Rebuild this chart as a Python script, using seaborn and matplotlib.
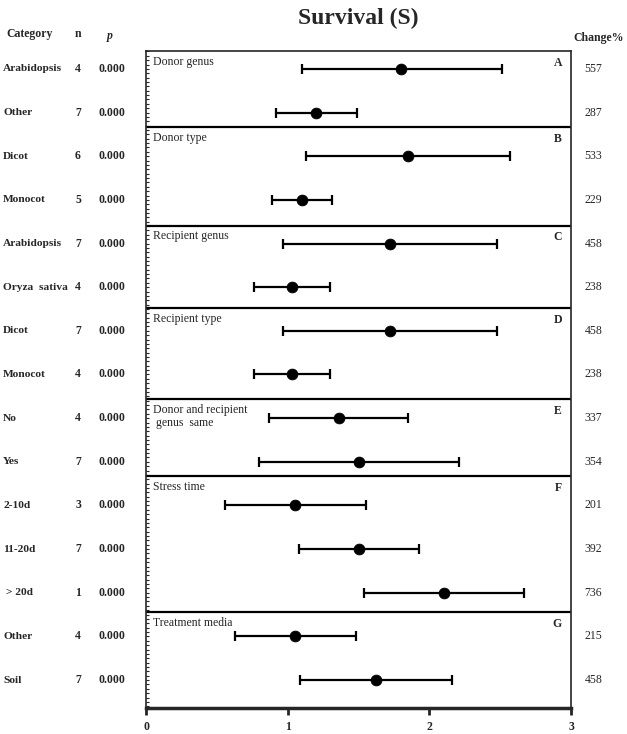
import numpy as np
import pandas as pd
import matplotlib
matplotlib.use("Agg")
import matplotlib.pyplot as plt
import seaborn as sns
from matplotlib.ticker import MultipleLocator

# data
categories = ["Arabidopsis", "Other", "Dicot", "Monocot", "Arabidopsis", "Oryza  sativa",
              "Dicot", "Monocot", "No", "Yes", "2-10d", "11-20d", " > 20d", "Other", "Soil"]
n_values = [4, 7, 6, 5, 7, 4, 7, 4, 4, 7, 3, 7, 1, 4, 7]
p_values = ["0.000", "0.000", "0.000", "0.000", "0.000", "0.000", "0.000", "0.000",
            "0.000", "0.000", "0.000", "0.000", "0.000", "0.000", "0.000"]
means = [1.80, 1.20, 1.85, 1.10, 1.72, 1.03, 1.72, 1.03, 1.36, 1.50, 1.05, 1.50, 2.10, 1.05, 1.62]
lower = [1.10, 0.92, 1.13, 0.89, 0.97, 0.76, 0.97, 0.76, 0.87, 0.80, 0.56, 1.08, 1.54, 0.63, 1.09]
upper = [2.51, 1.49, 2.57, 1.31, 2.48, 1.30, 2.48, 1.30, 1.85, 2.21, 1.55, 1.93, 2.67, 1.48, 2.16]
change = [557, 287, 533, 229, 458, 238, 458, 238, 337, 354, 201, 392, 736, 215, 458]

groups = ["Donor genus", "Donor type", "Recipient genus", "Recipient type",
          "Donor and recipient\n genus  same", "Stress time", "Treatment media"]
letters = ["A", "B", "C", "D", "E", "F", "G"]
# panel edges in row units (row i sits at y = i)
edges = [-0.41, 1.33, 3.59, 5.48, 7.57, 9.33, 12.44, 14.64]

df = pd.DataFrame({
    "Category": categories,
    "n": n_values,
    "p": p_values,
    "mean": means,
    "lower": lower,
    "upper": upper,
    "change": change,
})
df["row"] = np.arange(len(df))

sns.set_style("ticks")
plt.rcParams["font.family"] = ["Liberation Serif", "DejaVu Serif"]
FS = 8.5

fig = plt.figure(figsize=(6.27, 7.34), dpi=100)
ax = fig.add_axes([0.2329, 0.0354, 0.6778, 0.8951])

# confidence intervals
ax.errorbar(df["mean"], df["row"],
            xerr=[df["mean"] - df["lower"], df["upper"] - df["mean"]],
            fmt="none", ecolor="black", elinewidth=1.6, capsize=3.6, capthick=1.6, zorder=2)
sns.scatterplot(data=df, x="mean", y="row", ax=ax, s=60, color="black",
                edgecolor="black", zorder=3, legend=False)

ax.set_xlim(0, 3)
ax.set_ylim(edges[-1], edges[0])
ax.set_xlabel("")
ax.set_ylabel("")
ax.set_xticks([0, 1, 2, 3])
for lab in ax.get_xticklabels():
    lab.set_fontweight("bold")
ax.tick_params(axis="x", direction="out", length=5, width=2, labelsize=FS, pad=4)
ax.set_yticks([])
ax.yaxis.set_minor_locator(MultipleLocator(0.1))
ax.tick_params(axis="y", which="minor", direction="in", length=2, width=0.8, left=True)

for side in ["top", "right", "left"]:
    ax.spines[side].set_visible(True)
    ax.spines[side].set_linewidth(1.2)
ax.spines["bottom"].set_linewidth(2.5)

# panel dividers, titles and letters
ytr = ax.get_yaxis_transform()
for k, (g, let) in enumerate(zip(groups, letters)):
    top = edges[k]
    if k > 0:
        ax.axhline(top, color="black", lw=1.6, zorder=1)
    ax.annotate(g, xy=(0.016, top), xycoords=ytr,
                xytext=(0, -3.5), textcoords="offset points", va="top", ha="left",
                fontsize=FS, linespacing=1.05)
    ax.annotate(let, xy=(0.979, top), xycoords=ytr,
                xytext=(0, -4), textcoords="offset points", va="top", ha="right",
                fontsize=FS, fontweight="bold")

# left table and right column
for _, r in df.iterrows():
    ax.text(-0.3365, r["row"], r["Category"], transform=ytr, ha="left", va="center",
            fontsize=8.2, fontweight="bold", clip_on=False)
    ax.text(-0.160, r["row"], str(r["n"]), transform=ytr, ha="center", va="center",
            fontsize=FS, fontweight="bold", clip_on=False)
    ax.text(-0.080, r["row"], r["p"], transform=ytr, ha="center", va="center",
            fontsize=FS, fontweight="bold", clip_on=False)
    ax.text(1.053, r["row"], str(r["change"]), transform=ytr, ha="center", va="center",
            fontsize=FS, clip_on=False)

fig.text(6 / 627, 1 - 34 / 734, "Category", ha="left", va="center", fontsize=FS, fontweight="bold")
fig.text(78 / 627, 1 - 34 / 734, "n", ha="center", va="center", fontsize=FS, fontweight="bold")
fig.text(110 / 627, 1 - 36 / 734, "p", ha="center", va="center", fontsize=FS,
         fontweight="bold", style="italic")
fig.text(599 / 627, 1 - 38 / 734, "Change%", ha="center", va="center", fontsize=FS, fontweight="bold")
fig.text(358 / 627, 1 - 18 / 734, "Survival (S)", ha="center", va="center", fontsize=17, fontweight="bold")

fig.savefig("out.png", dpi=100)
